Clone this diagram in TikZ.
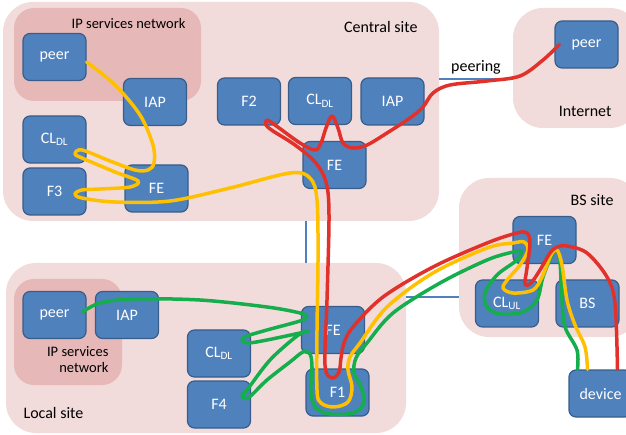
\documentclass[tikz,border=0pt]{standalone}
\usepackage{fontspec}
\setmainfont{Carlito}
\usetikzlibrary{calc}

\definecolor{sitepink}{HTML}{F2DCDB}
\definecolor{ippink}{HTML}{E6B9B8}
\definecolor{boxblue}{HTML}{4F81BD}
\definecolor{boxline}{HTML}{385D8A}
\definecolor{flowred}{HTML}{E2312A}
\definecolor{flowyellow}{HTML}{FFC000}
\definecolor{flowgreen}{HTML}{14AE4C}

\newcommand{\sitefont}{\fontsize{16}{18}\selectfont}
\newcommand{\ipfont}{\fontsize{14.5}{16}\selectfont}

\tikzset{
  site/.style={fill=sitepink, rounded corners=30pt, inner sep=0pt},
  ipnet/.style={fill=ippink, rounded corners=20pt, inner sep=0pt},
  box/.style={draw=boxline, fill=boxblue, line width=1.2pt, rounded corners=7pt,
    minimum width=63pt, minimum height=47pt, text=white, font=\sitefont},
  link/.style={draw=boxblue, line width=2.5pt},
  flow/.style={line width=3.5pt, line cap=round, line join=round},
}

\begin{document}
\begin{tikzpicture}[x=1pt,y=-1pt]
  \useasboundingbox (0,0) rectangle (626,435);

  % sites
  \node[site, minimum width=436pt, minimum height=219pt] (central) at (221,111.5) {};
  \node[site, minimum width=127pt, minimum height=120pt] (internet) at (576.5,68) {};
  \node[site, minimum width=181pt, minimum height=159pt] (bssite) at (549.5,257.5) {};
  \node[site, minimum width=400pt, minimum height=170pt] (local) at (206,348) {};
  \node[ipnet, minimum width=187pt, minimum height=93pt] (cipnet) at (107.5,54.5) {};
  \node[ipnet, minimum width=108pt, minimum height=106pt] (lipnet) at (68,332) {};

  \node[anchor=east, font=\ipfont] at (189,24) {IP services network};
  \node[anchor=east, font=\sitefont] at (421,27) {Central site};
  \node[anchor=east, font=\sitefont] at (615,111) {Internet};
  \node[anchor=east, font=\sitefont] at (617,200) {BS site};
  \node[anchor=west, font=\sitefont] at (20,413) {Local site};
  \node[anchor=east, align=right, font=\ipfont] at (112,360) {IP services\\network};

  % links between sites
  \draw[link] (central.east |- 0,79) -- (internet.west |- 0,79)
    node[midway, above, font=\sitefont] {peering};
  \draw[link] (306,0 |- central.south) -- (306,0 |- local.north);
  \draw[link] (local.east |- 0,297) -- (bssite.west |- 0,297);

  % central site
  \node[box] (cpeer) at (54.5,57) {peer};
  \node[box] (ciap1) at (155,102) {IAP};
  \node[box] (ccl1) at (54.5,139.5) {CL\textsubscript{DL}};
  \node[box] (f3) at (54.5,191.5) {F3};
  \node[box] (cfe1) at (156.5,188.5) {FE};
  \node[box] (f2) at (249,101.5) {F2};
  \node[box] (ccl2) at (320,101) {CL\textsubscript{DL}};
  \node[box] (ciap2) at (392.5,101.5) {IAP};
  \node[box] (cfe2) at (334.5,165) {FE};
  % internet
  \node[box] (ipeer) at (586.5,44.5) {peer};
  % BS site
  \node[box] (bfe) at (544.5,240) {FE};
  \node[box] (clul) at (507,303.5) {CL\textsubscript{UL}};
  \node[box] (bs) at (587.5,303.5) {BS};
  \node[box] (device) at (600.5,393.5) {device};
  % local site
  \node[box] (lpeer) at (54.5,315) {peer};
  \node[box] (liap) at (127,315) {IAP};
  \node[box] (lcl) at (219,353.5) {CL\textsubscript{DL}};
  \node[box] (f4) at (219,404.5) {F4};
  \node[box] (lfe) at (333,330) {FE};
  \node[box] (f1) at (337.5,392.5) {F1};

  % flows
  \draw[flow, flowgreen] plot[smooth, tension=0.55] coordinates {
    ($(lpeer.east)+(-4,-3)$) (100,303) (133,299) (200,300) (267,307) (300,313)
    (307,317) (300,321) (267,330) (247,336) (242,340) (248,343) (267,340)
    (300,333) (308,331) (297,336) (270,360) (247,390) (242,395) (248,398)
    (267,380) (290,362) (303,352) (310,354) (312,367) (311,393) (316,408)
    (330,414) (353,413) (364,403) (361,387) (354,373) (356,358) (367,343)
    (393,313) (440,283) (487,260) (513,252) (521,251) (517,260) (497,275)
    (485,293) (487,307) (500,314) (523,312) (537,300) (543,277) (552,255)
    (557,250) (560,262) (562,300) (565,327) (577,350) ($(device.north)+(-23,0)$)};
  \draw[flow, flowyellow] plot[smooth, tension=0.55] coordinates {
    ($(cpeer.east)+(0,5)$) (115,85) (140,115) (153,145) (154,163) (148,170)
    (135,170) (110,161) (82,150) (75,154) (82,158) (115,172) (138,181)
    (130,187) (100,189) (82,190) (75,194) (82,198) (115,202) (170,201)
    (230,188) (290,173) (310,178) (317,200) (318,260) (317,330) (317,390)
    (321,403) (334,407) (348,402) (352,387) (348,370) (350,357) (360,343)
    (387,307) (433,273) (487,248) (513,243) (524,242) (528,250) (520,265)
    (508,279) (503,288) (513,293) (533,290) (542,277) (551,255) (557,250)
    (562,265) (567,300) (575,325) (585,347) ($(device.north)+(-13,0)$)};
  \draw[flow, flowred] plot[smooth, tension=0.55] coordinates {
    ($(ipeer.west)+(5,0)$) (543,60) (520,76) (487,81) (450,85) (433,93)
    (423,107) (410,118) (387,133) (367,145) (353,148) (343,143) (338,128)
    (332,116) (326,128) (321,143) (315,150) (300,143) (275,125) (267,120)
    (266,125) (273,131) (295,145) (315,162) (326,182) (329,215) (327,300)
    (325,365) (332,378) (339,372) (341,358) (344,343) (353,327) (383,297)
    (433,267) (487,243) (517,233) (527,233) (530,243) (527,268) (525,284)
    (531,283) (540,270) (550,253) (557,247) (567,246) (587,253) (607,277)
    (615,303) ($(device.north)+(17,0)$)};
\end{tikzpicture}
\end{document}
